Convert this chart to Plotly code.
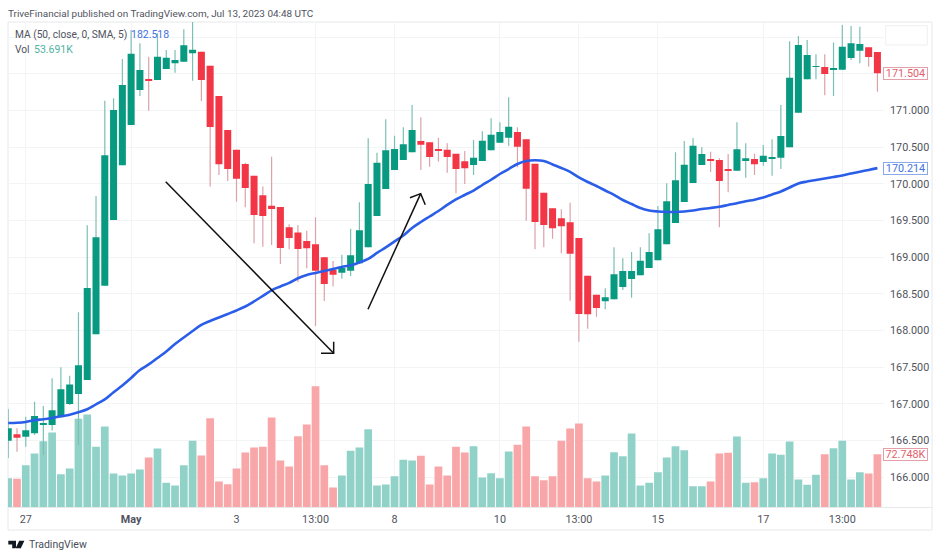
import numpy as np
import plotly.graph_objects as go

W, H = 940, 559
bar_index = list(range(-1, 99))
opens = [166.499,166.587,166.554,166.600,166.713,166.713,166.818,166.999,167.136,167.327,167.949,168.612,169.507,170.253,170.802,171.279,171.425,171.415,171.566,171.643,171.665,171.780,
171.801,171.611,171.198,170.734,170.466,170.271,170.111,169.844,169.702,169.685,169.408,169.337,169.221,169.176,168.999,168.826,168.789,168.816,168.917,169.135,169.562,169.930,170.189,170.325,170.430,
170.584,170.566,170.466,170.466,170.411,170.307,170.257,170.312,170.457,170.561,170.629,170.707,170.607,170.275,169.880,169.667,169.531,169.476,169.262,168.748,168.489,168.399,168.426,168.594,168.703,168.754,168.853,168.958,169.176,169.467,169.753,170.012,170.257,
170.329,170.325,170.193,170.179,170.321,170.339,170.298,170.348,170.357,170.498,170.970,171.425,171.593,171.593,171.552,171.556,171.715,171.815,171.861,171.797]
highs = [166.931,166.668,166.826,167.031,166.972,167.350,167.500,167.385,168.249,169.435,169.835,171.133,171.166,171.702,172.097,171.916,171.733,172.052,171.825,171.825,172.107,172.230,
171.801,171.611,171.198,170.734,170.466,170.289,170.111,169.962,170.370,169.685,169.449,169.439,169.362,169.544,168.999,168.949,169.034,169.389,169.749,170.621,170.425,170.880,170.656,170.771,171.075,
170.907,170.566,170.629,170.553,170.411,170.448,170.598,170.716,170.894,170.839,171.180,170.771,170.607,170.275,169.880,169.667,169.653,169.743,169.262,168.748,168.489,168.577,169.135,168.985,169.071,169.135,169.326,169.698,170.008,170.430,170.584,170.625,170.498,
170.438,170.348,170.407,170.839,170.553,170.411,170.530,170.607,171.075,171.943,172.015,171.961,171.766,171.766,171.925,172.165,172.152,172.142,171.861,171.797]
lows = [166.263,166.349,166.417,166.577,166.304,166.636,166.818,166.986,166.441,167.327,167.949,168.612,169.507,170.253,170.802,171.198,170.997,171.415,171.566,171.515,171.665,171.406,
171.129,169.962,170.121,170.039,169.757,169.680,169.190,169.143,169.167,168.908,169.108,168.663,168.849,168.063,168.403,168.599,168.707,168.744,168.917,169.135,169.562,169.930,170.189,170.325,170.430,
170.189,170.234,170.302,170.152,169.871,169.998,170.121,170.312,170.457,170.561,170.516,170.226,169.498,169.108,169.135,169.253,169.053,168.407,167.849,168.026,168.189,168.290,168.426,168.553,168.447,168.754,168.853,168.958,169.176,169.467,169.753,170.012,170.257,
170.162,169.408,169.885,170.179,170.084,170.121,170.248,170.111,170.202,170.498,170.970,171.425,171.425,171.207,171.198,171.556,171.688,171.643,171.597,171.256]
closes = [166.668,166.540,166.641,166.836,166.727,166.914,167.200,167.263,167.527,168.581,169.272,170.389,171.007,171.347,171.774,171.552,171.412,171.733,171.720,171.688,171.888,171.829,
171.415,170.775,170.267,170.202,170.070,169.944,169.576,169.562,169.657,169.126,169.262,169.112,169.122,168.816,168.635,168.762,168.853,169.026,169.367,169.998,170.289,170.457,170.475,170.539,170.734,
170.534,170.366,170.452,170.366,170.202,170.212,170.357,170.588,170.670,170.707,170.779,170.507,169.934,169.480,169.439,169.394,169.422,169.048,168.226,168.222,168.308,168.453,168.767,168.812,168.812,168.953,169.071,169.381,169.762,170.049,170.261,170.520,170.407,
170.316,170.039,170.179,170.471,170.348,170.267,170.384,170.366,170.652,171.447,171.893,171.756,171.606,171.497,171.575,171.870,171.916,171.906,171.729,171.507]
ma50 = [166.740,166.743,166.754,166.779,166.791,166.809,166.832,166.852,166.886,166.927,166.993,167.061,167.159,167.252,167.354,167.463,167.538,167.626,167.715,167.817,167.906,167.994,168.076,168.131,168.178,168.226,168.274,168.328,168.397,168.472,168.549,168.601,168.649,168.713,168.758,168.785,168.812,168.840,168.867,168.890,168.928,168.976,169.058,169.133,169.215,169.296,169.398,169.480,169.555,169.630,169.712,169.787,169.848,169.909,169.984,170.056,170.134,170.202,170.271,170.312,170.321,170.312,170.264,170.216,170.162,170.087,170.025,169.971,169.909,169.848,169.780,169.725,169.671,169.637,169.623,169.616,169.616,169.623,169.637,169.657,169.671,169.688,169.712,169.735,169.762,169.784,169.814,169.855,169.896,169.950,170.005,170.032,170.052,170.073,170.093,170.114,170.141,170.166,170.189,170.214]
volume_k = [40.0,39.0,57.7,73.5,90.3,102.2,45.4,53.1,120.8,126.7,82.6,110.3,46.3,43.6,46.3,51.8,68.1,80.4,33.6,30.0,57.7,90.8,70.8,121.7,35.4,31.8,53.1,74.9,81.7,82.6,122.6,64.0,55.8,97.2,113.0,165.3,57.7,27.2,43.6,77.2,81.7,106.7,30.0,31.3,42.7,64.9,64.0,70.4,31.3,55.8,43.6,82.6,74.9,83.5,40.9,46.8,40.0,76.3,85.4,110.3,42.7,37.2,42.7,90.8,107.6,114.4,40.0,35.4,43.6,75.4,69.9,100.8,30.0,33.6,48.1,68.1,83.5,78.1,29.1,29.1,35.4,73.5,74.5,96.7,33.6,34.5,40.0,73.5,71.7,89.9,38.1,30.9,44.5,72.6,80.8,90.8,38.1,48.1,46.3,72.7]

tick_index = [1, 13, 25, 34, 43, 55, 64, 73, 85, 94]
tick_text = ["27", "<b>May</b>", "3", "13:00", "8", "10", "13:00", "15", "17", "13:00"]
price_ticks = [166.0, 166.5, 167.0, 167.5, 168.0, 168.5, 169.0, 169.5, 170.0, 170.5, 171.0, 171.5, 172.0]
price_text = ["166.000", "166.500", "167.000", "167.500", "168.000", "168.500", "169.000", "169.500", "170.000", "170.500", "171.000", "", ""]

arrow_down_x = [16.94, 36.07]
arrow_down_y = [170.029, 167.690]
arrow_down_head_x = [36.07, 36.07, 34.62]
arrow_down_head_y = [167.848, 167.690, 167.690]
arrow_up_x = [39.98, 45.98]
arrow_up_y = [168.290, 169.866]
arrow_up_head_x = [44.76, 45.98, 46.50]
arrow_up_head_y = [169.811, 169.866, 169.716]

GREEN, RED = "#089981", "#f23645"
GREEN_WICK, RED_WICK = "#7cbfb3", "#dba2aa"
GREEN_VOL, RED_VOL = "#91d2c8", "#f8a6a8"
GRID = "#f3f4f6"
FRAME = "#e7e8ea"
TEXT = "#50535e"
BLUE = "#2b5ee8"

o, c = np.array(opens), np.array(closes)
up = c >= o

def px(x):
    return x / W

def py(y):
    return 1 - y / H

def wicks(mask):
    xs, ys = [], []
    for i, m in enumerate(mask):
        if m:
            xs += [bar_index[i], bar_index[i], None]
            ys += [lows[i], highs[i], None]
    return xs, ys

fig = go.Figure()
fig.add_trace(go.Bar(x=bar_index, y=volume_k, width=0.88, yaxis="y",
                     marker=dict(color=[GREEN_VOL if u else RED_VOL for u in up], line=dict(width=0))))
for mask, col in ((up, GREEN_WICK), (~up, RED_WICK)):
    xs, ys = wicks(mask)
    fig.add_trace(go.Scatter(x=xs, y=ys, mode="lines", yaxis="y2", line=dict(color=col, width=1.2)))
fig.add_trace(go.Bar(x=bar_index, y=np.abs(c - o), base=np.minimum(o, c), width=0.8, yaxis="y3",
                     marker=dict(color=[GREEN if u else RED for u in up], line=dict(width=0))))
fig.add_trace(go.Scatter(x=bar_index, y=ma50, mode="lines", yaxis="y3",
                         line=dict(color=BLUE, width=2.6, shape="spline", smoothing=1.0)))
for xs, ys in ((arrow_down_x, arrow_down_y), (arrow_down_head_x, arrow_down_head_y),
               (arrow_up_x, arrow_up_y), (arrow_up_head_x, arrow_up_head_y)):
    fig.add_trace(go.Scatter(x=xs, y=ys, mode="lines", yaxis="y3", line=dict(color="#111111", width=1.5)))

dom_y = [py(507.5), py(22)]
yrange = [165.588, 172.206]
TICK_SIZE = 10.8
fig.update_layout(
    width=W, height=H, margin=dict(l=0, r=0, t=0, b=0),
    paper_bgcolor="white", plot_bgcolor="white", showlegend=False, barmode="overlay",
    font=dict(family="Roboto", size=10.5, color=TEXT),
    xaxis=dict(domain=[px(8), px(884)], range=[-1.025, 98.75], tickmode="array", tickvals=tick_index,
               ticktext=tick_text, showgrid=True, gridcolor=GRID, gridwidth=1, zeroline=False,
               ticks="", showline=False, tickfont=dict(family="Roboto", size=TICK_SIZE, color=TEXT), ticklabelstandoff=4),
    yaxis=dict(domain=dom_y, range=[0, 661.4], visible=False, showgrid=False, fixedrange=True),
    yaxis2=dict(domain=dom_y, range=yrange, overlaying="y", visible=False, showgrid=False),
    yaxis3=dict(domain=dom_y, range=yrange, overlaying="y", side="right", tickmode="array", tickvals=price_ticks,
                ticktext=price_text, showgrid=True, gridcolor=GRID, gridwidth=1, zeroline=False, ticks="",
                showline=False, tickfont=dict(family="Roboto", size=TICK_SIZE, color=TEXT), ticklabelstandoff=5),
    shapes=[
        dict(type="rect", xref="paper", yref="paper", x0=px(8), x1=px(932), y0=py(530), y1=py(22),
             line=dict(color=FRAME, width=1), layer="below"),
        dict(type="line", xref="paper", yref="paper", x0=px(8), x1=px(932), y0=py(507.5), y1=py(507.5),
             line=dict(color=FRAME, width=1), layer="above"),
        dict(type="rect", xref="paper", yref="paper", x0=px(885.7), x1=px(927.3), y0=py(45), y1=py(25.7),
             line=dict(color="#eeeff1", width=1), fillcolor="white", layer="above"),
        dict(type="path", xref="paper", yref="paper", fillcolor="#131722", line=dict(width=0),
             path=f"M {px(8.3)} {py(540.8)} L {px(16)} {py(540.8)} L {px(16)} {py(548.3)} L {px(12.2)} {py(548.3)} "
                  f"L {px(12.2)} {py(544.5)} L {px(8.3)} {py(544.5)} Z "
                  f"M {px(19.2)} {py(540.8)} L {px(24.4)} {py(540.8)} L {px(20.8)} {py(548.3)} L {px(15.6)} {py(548.3)} Z"),
    ],
    annotations=[
        dict(text="TriveFinancial published on TradingView.com, Jul 13, 2023 04:48 UTC", xref="paper", yref="paper",
             x=px(6), y=py(13), xanchor="left", yanchor="middle", showarrow=False, font=dict(size=9.95, color=TEXT)),
        dict(text="MA (50, close, 0, SMA, 5)", xref="paper", yref="paper", x=px(13), y=py(35), xanchor="left",
             yanchor="middle", showarrow=False, font=dict(size=10.2, color=TEXT)),
        dict(text="182.518", xref="paper", yref="paper", x=px(129), y=py(35), xanchor="left", yanchor="middle",
             showarrow=False, font=dict(size=10.5, color="#3f72e5")),
        dict(text="Vol", xref="paper", yref="paper", x=px(13), y=py(49), xanchor="left", yanchor="middle",
             showarrow=False, font=dict(size=10.2, color=TEXT)),
        dict(text="53.691K", xref="paper", yref="paper", x=px(32), y=py(49), xanchor="left", yanchor="middle",
             showarrow=False, font=dict(size=10.5, color="#4fb3a4")),
        dict(text="171.504", xref="paper", yref="paper", x=px(905.5), y=py(73.5), xanchor="center", yanchor="middle",
             width=43, height=11, bgcolor="white", bordercolor="#e3a0a8", borderwidth=1, borderpad=0, showarrow=False,
             font=dict(size=TICK_SIZE, color="#e2606c")),
        dict(text="170.214", xref="paper", yref="paper", x=px(905.5), y=py(168.2), xanchor="center", yanchor="middle",
             width=43, height=11, bgcolor="white", bordercolor="#8aa8ea", borderwidth=1, borderpad=0, showarrow=False,
             font=dict(size=TICK_SIZE, color="#3f72e5")),
        dict(text="72.748K", xref="paper", yref="paper", x=px(905.5), y=py(454), xanchor="center", yanchor="middle",
             width=43, height=11, bgcolor="white", bordercolor="#e3a0a8", borderwidth=1, borderpad=0, showarrow=False,
             font=dict(size=TICK_SIZE, color="#e2606c")),
        dict(text="TradingView", xref="paper", yref="paper", x=px(26.5), y=py(544.5), xanchor="left", yanchor="middle",
             showarrow=False, font=dict(size=10.5, color="#4a4e5a")),
    ],
)
fig.write_html("out.html", post_script="document.body.style.margin='0';", config=dict(displayModeBar=False))
